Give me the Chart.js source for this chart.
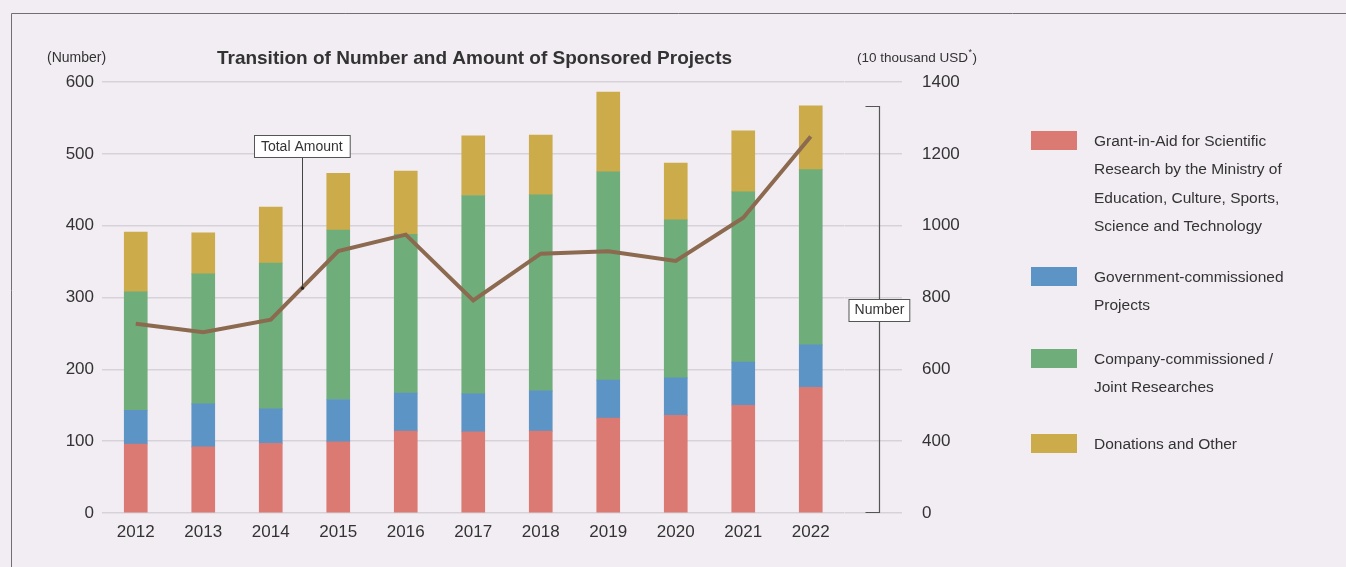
<!DOCTYPE html>
<html>
<head>
<meta charset="utf-8">
<script src="https://cdn.jsdelivr.net/npm/chart.js@4.4.1/dist/chart.umd.min.js"></script>
<style>
  html, body { margin: 0; padding: 0; background: #f2ecf3; }
  canvas { display: block; }
</style>
</head>
<body>
<canvas id="chart" width="1346" height="567"></canvas>
<script>
const years = ['2012', '2013', '2014', '2015', '2016', '2017', '2018', '2019', '2020', '2021', '2022'];

// number of projects, by kind
const grantInAid = [96, 92, 97, 99, 114, 113, 114, 132, 136, 150, 175];
const government = [47, 60, 48, 59, 53, 53, 56, 53, 52, 60, 59];
const company = [165, 181, 203, 236, 221, 276, 273, 290, 220, 237, 244];
const donations = [83, 57, 78, 79, 88, 83, 83, 111, 79, 85, 89];

// total amount (10 thousand USD)
const totalAmount = [727, 703, 738, 929, 975, 792, 922, 929, 902, 1022, 1248];

const seriesNames = [
  ['Grant-in-Aid for Scientific', 'Research by the Ministry of', 'Education, Culture, Sports,', 'Science and Technology'],
  ['Government-commissioned', 'Projects'],
  ['Company-commissioned /', 'Joint Researches'],
  ['Donations and Other']
];
const seriesColors = ['#da7a72', '#5b94c5', '#6fae7b', '#cbab4a'];

const FONT = '"Liberation Sans", Arial, sans-serif';
const TEXT = '#333333';
const GRID = '#d7d1d9';

const extras = {
  id: 'extras',
  beforeDraw(chart) {
    const c = chart.ctx;
    c.save();
    c.fillStyle = '#f2ecf3';
    c.fillRect(0, 0, chart.width, chart.height);
    c.strokeStyle = '#707070';
    c.lineWidth = 1;
    c.beginPath();
    c.moveTo(11.5, chart.height);
    c.lineTo(11.5, 13.5);
    c.lineTo(chart.width, 13.5);
    c.stroke();
    c.restore();
  },
  afterDraw(chart) {
    const c = chart.ctx;
    const area = chart.chartArea;
    const x = chart.scales.x, y = chart.scales.y, y1 = chart.scales.y1;
    c.save();
    c.fillStyle = TEXT;
    c.textBaseline = 'middle';

    // titles
    c.font = 'bold 19px ' + FONT;
    c.textAlign = 'center';
    c.fillText('Transition of Number and Amount of Sponsored Projects', 474.5, 59);
    c.font = '14px ' + FONT;
    c.textAlign = 'left';
    c.fillText('(Number)', 47, 58);
    c.font = '13.5px ' + FONT;
    let tx = 857;
    c.fillText('(10 thousand USD', tx, 58);
    tx += c.measureText('(10 thousand USD').width;
    c.font = '9px ' + FONT;
    c.fillText('*', tx + 0.5, 53);
    tx += c.measureText('*').width + 1;
    c.font = '13.5px ' + FONT;
    c.fillText(')', tx, 58);

    // "Total Amount" call-out on the line between 2014 and 2015
    const f = 0.46;
    const ax = x.getPixelForValue(2) + (x.getPixelForValue(3) - x.getPixelForValue(2)) * f;
    const ay = y1.getPixelForValue(totalAmount[2] + (totalAmount[3] - totalAmount[2]) * f);
    const boxTop = ay - 153;
    c.strokeStyle = '#444';
    c.lineWidth = 1;
    c.beginPath();
    c.moveTo(Math.round(ax) + 0.5, boxTop + 22);
    c.lineTo(Math.round(ax) + 0.5, ay);
    c.stroke();
    c.fillStyle = '#222';
    c.beginPath();
    c.arc(Math.round(ax) + 0.5, ay, 1.6, 0, Math.PI * 2);
    c.fill();
    c.font = '14px ' + FONT;
    const tw = c.measureText('Total Amount').width + 14;
    c.fillStyle = '#ffffff';
    c.fillRect(Math.round(ax - tw / 2) + 0.5, Math.round(boxTop) + 0.5, tw, 22);
    c.strokeStyle = '#555';
    c.strokeRect(Math.round(ax - tw / 2) + 0.5, Math.round(boxTop) + 0.5, tw, 22);
    c.fillStyle = TEXT;
    c.textAlign = 'center';
    c.fillText('Total Amount', ax, boxTop + 12);

    // "Number" bracket, spanning 0 to the latest year's total
    const last = years.length - 1;
    const lastTotal = grantInAid[last] + government[last] + company[last] + donations[last];
    const bx = Math.round(area.right + 34) + 0.5;
    const top = Math.round(y.getPixelForValue(lastTotal)) + 0.5;
    const bottom = Math.round(y.getPixelForValue(0)) - 0.5;
    c.strokeStyle = '#555';
    c.lineWidth = 1.2;
    c.beginPath();
    c.moveTo(bx - 14, top);
    c.lineTo(bx, top);
    c.lineTo(bx, bottom);
    c.lineTo(bx - 14, bottom);
    c.stroke();
    const mid = (top + bottom) / 2;
    const nw = c.measureText('Number').width + 11;
    c.fillStyle = '#ffffff';
    c.fillRect(Math.round(bx - nw / 2), Math.round(mid - 11) + 0.5, nw, 22);
    c.strokeStyle = '#555';
    c.lineWidth = 1;
    c.strokeRect(Math.round(bx - nw / 2), Math.round(mid - 11) + 0.5, nw, 22);
    c.fillStyle = TEXT;
    c.fillText('Number', bx, mid + 1);

    // legend
    const tops = [131, 267, 349, 434];
    c.font = '15.5px ' + FONT;
    c.textAlign = 'left';
    chart.data.datasets.filter(d => d.type === 'bar').forEach((d, i) => {
      c.fillStyle = d.backgroundColor;
      c.fillRect(1031, tops[i], 46, 19);
      c.fillStyle = TEXT;
      seriesNames[i].forEach((line, k) => {
        c.fillText(line, 1094, tops[i] + 10.5 + k * 28.4);
      });
    });
    c.restore();
  }
};

const barSet = (i, values) => ({
  type: 'bar',
  label: seriesNames[i].join(' '),
  data: values,
  backgroundColor: seriesColors[i],
  barThickness: 23,
  yAxisID: 'y',
  order: 1
});

new Chart(document.getElementById('chart'), {
  data: {
    labels: years,
    datasets: [
      {
        type: 'line',
        label: 'Total Amount',
        data: totalAmount,
        borderColor: '#8b6a4f',
        borderWidth: 4,
        pointRadius: 0,
        tension: 0,
        yAxisID: 'y1',
        order: 0
      },
      barSet(0, grantInAid),
      barSet(1, government),
      barSet(2, company),
      barSet(3, donations)
    ]
  },
  options: {
    responsive: false,
    devicePixelRatio: 1,
    animation: false,
    layout: {
      padding: { top: 82, left: 0, right: 371.5, bottom: 14 }
    },
    scales: {
      x: {
        stacked: true,
        grid: { display: false, drawTicks: false },
        border: { display: false },
        ticks: { color: TEXT, font: { family: FONT, size: 17 }, padding: 9 },
        afterFit(s) { s.height = 40; }
      },
      y: {
        stacked: true,
        min: 0,
        max: 600,
        ticks: { stepSize: 100, color: TEXT, font: { family: FONT, size: 17 }, padding: 8 },
        grid: { color: GRID, lineWidth: 1.5, drawTicks: false },
        border: { display: false },
        afterFit(s) { s.width = 102; }
      },
      y1: {
        position: 'right',
        min: 200,
        max: 1400,
        ticks: {
          stepSize: 200,
          color: TEXT,
          font: { family: FONT, size: 17 },
          padding: 20,
          callback: v => (v === 200 ? '0' : v)
        },
        grid: { color: GRID, lineWidth: 1.5, drawOnChartArea: false, drawTicks: true, tickLength: 57.5 },
        border: { display: false },
        afterFit(s) { s.width = 130; }
      }
    },
    plugins: {
      legend: { display: false },
      tooltip: { enabled: false }
    }
  },
  plugins: [extras]
});
</script>
</body>
</html>
